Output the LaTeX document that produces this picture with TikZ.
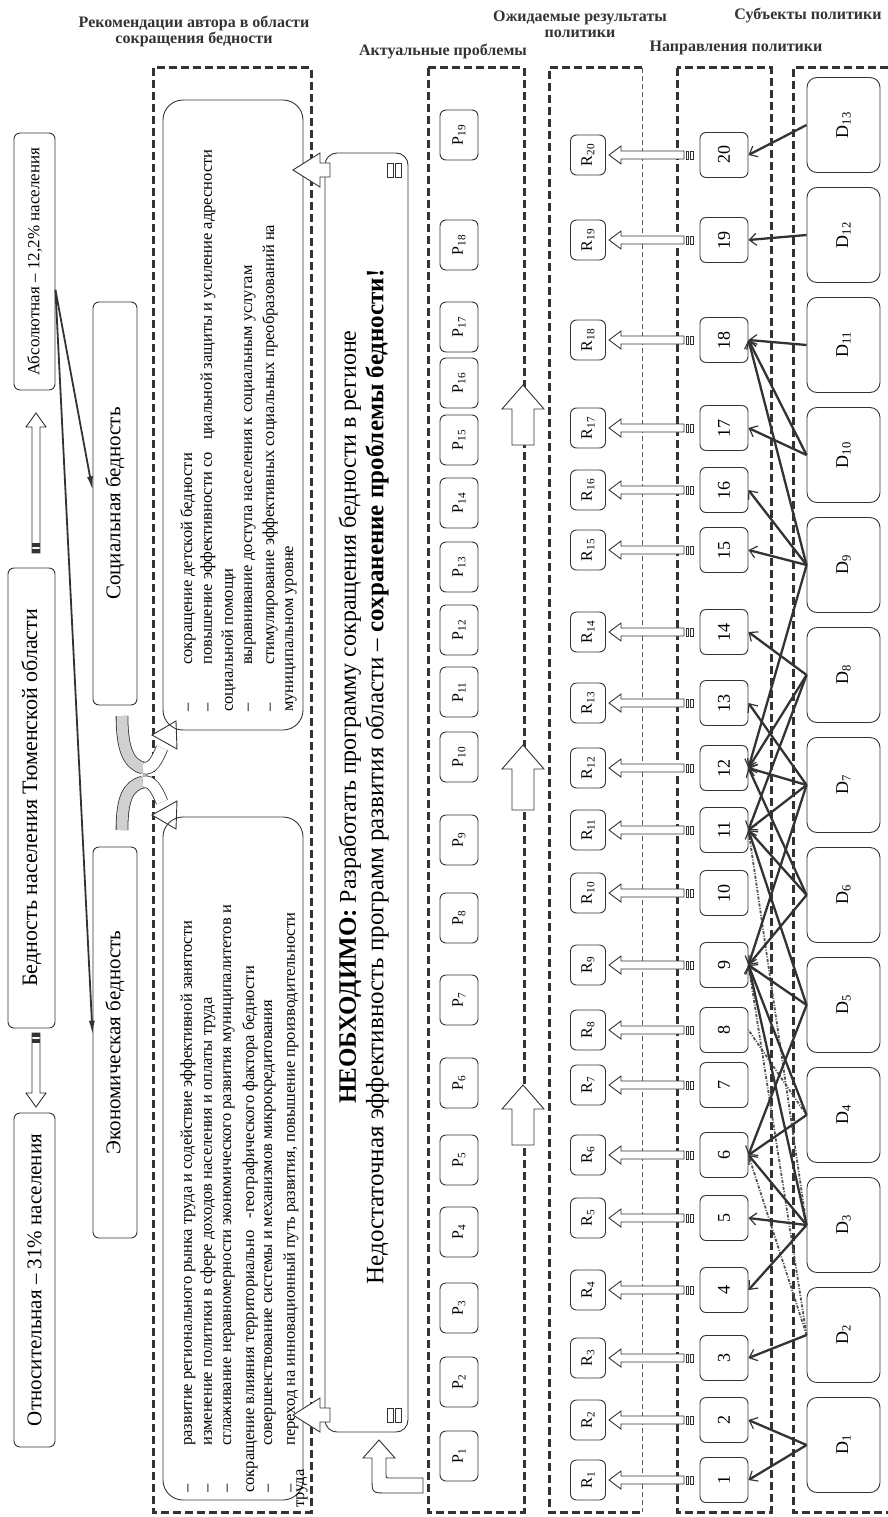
\documentclass[tikz,border=0pt]{standalone}
\usepackage{fontspec}
\setmainfont{Liberation Serif}
\usetikzlibrary{arrows.meta,calc}
\definecolor{ink}{HTML}{333333}
\definecolor{grayfill}{HTML}{D0D0D0}
\newcommand\fs[1]{\fontsize{#1}{#1}\selectfont}
\newcommand\harrL[6]{\draw[blk] (#1,#3-#4) -- (#2+#6,#3-#4) -- (#2+#6,#3-#5) -- (#2,#3) -- (#2+#6,#3+#5) -- (#2+#6,#3+#4) -- (#1,#3+#4) -- cycle;}
\newcommand\varrU[6]{\draw[blk] (#1-#4,#2) -- (#1-#4,#3+#6) -- (#1-#5,#3+#6) -- (#1,#3) -- (#1+#5,#3+#6) -- (#1+#4,#3+#6) -- (#1+#4,#2) -- cycle;}
\newcommand\varrD[6]{\draw[blk] (#1-#4,#2) -- (#1-#4,#3-#6) -- (#1-#5,#3-#6) -- (#1,#3) -- (#1+#5,#3-#6) -- (#1+#4,#3-#6) -- (#1+#4,#2) -- cycle;}
\newcommand\dsh{\makebox[47pt][l]{–}}
\begin{document}
\begin{tikzpicture}[x=1pt,y=-1pt,
 bx/.style={draw=ink, line width=0.9pt, rounded corners=6pt, rotate=90, inner sep=0pt, align=center, text=black},
 hd/.style={font=\bfseries\fs{16}, align=center, text=ink},
 fh/.style={draw=ink, line width=3pt, dash pattern=on 8pt off 4pt},
 fl/.style={draw=ink!80, line width=0.7pt, dash pattern=on 5pt off 3pt},
 cn/.style={draw=ink, line width=2.3pt, -{Straight Barb[length=7pt,width=12pt,line width=1.2pt]}},
 cd/.style={draw=ink!85, line width=1.8pt, dash pattern=on 3pt off 1.5pt on 1pt off 1.5pt},
 blk/.style={draw=ink, line width=0.9pt, fill=white, line join=miter},
 rl/.style={rotate=90, anchor=west, inner sep=0pt, font=\fs{16.5}, text=black},
]
\useasboundingbox[fill=white] (0,0) rectangle (888,1517);

% headings
\node[hd] (h1) at (194,31) {Рекомендации автора в области\\сокращения бедности};
\node[hd] (h2) at (443,52) {Актуальные проблемы};
\node[hd] (h3) at (580,24) {Ожидаемые результаты\\политики};
\node[hd] (h4) at (808,16) {Субъекты политики};
\node[hd] (h5) at (736,48) {Направления политики};

% frames
\draw[fh] (153,68) rectangle (311,1512);
\draw[fh] (428,68) rectangle (524,1512);
\draw[fh] (642,68) -- (549,68) -- (549,1512) -- (642,1512);
\draw[fl] (642,68) -- (642,1512);
\draw[fh] (677,68) rectangle (771,1512);
\draw[fh] (888,68) -- (793,68) -- (793,1512) -- (888,1512);

% left column
\node[bx, minimum width=257, minimum height=41, font=\fs{17}] (abs) at (34.5,261.5) {Абсолютная – 12,2\% населения};
\node[bx, minimum width=460, minimum height=47, font=\fs{22}] (bed) at (31.5,798) {Бедность населения Тюменской области};
\node[bx, minimum width=334, minimum height=41, font=\fs{21}] (otn) at (34.5,1280) {Относительная – 31\% населения};
\node[bx, minimum width=403, minimum height=44, font=\fs{21}] (soc) at (115,503.5) {Социальная бедность};
\node[bx, minimum width=391, minimum height=44, font=\fs{21}] (eco) at (115,1042.5) {Экономическая бедность};

\varrU{36}{553}{413}{4}{10}{14}
\fill[ink] (32,543) rectangle (40,547);
\fill[ink] (32,549) rectangle (40,553);
\varrD{36}{1033}{1107}{4}{10}{14}
\fill[ink] (32,1033) rectangle (40,1037);
\fill[ink] (32,1039) rectangle (40,1043);

\coordinate (absout) at ($(abs.south)!0.22!(abs.south west)$);
\draw[draw=ink, line width=1.8pt, -{Latex[length=14pt,width=6pt]}] (absout) -- ($(soc.north)!0.065!(soc.north east)$);
\draw[draw=ink, line width=1.8pt, -{Latex[length=14pt,width=6pt]}] (absout) -- ($(eco.north)!0.04!(eco.north east)$);

% gray curved arrows
\draw[draw=ink, double=grayfill, double distance=11pt, line width=0.8pt] (122,716) .. controls (122,748) and (128,764) .. (143,768);
\draw[draw=ink, double=white, double distance=11pt, line width=0.8pt] (143,768) .. controls (152,770) and (157,760) .. (162,748);
\draw[blk] (176,721) -- (177,749) -- (152,735) -- cycle;
\draw[draw=ink, double=grayfill, double distance=11pt, line width=0.8pt] (122,830) .. controls (122,798) and (128,786) .. (143,782);
\draw[draw=ink, double=white, double distance=11pt, line width=0.8pt] (143,782) .. controls (152,780) and (157,790) .. (162,802);
\draw[blk] (176,829) -- (177,801) -- (152,815) -- cycle;

% recommendation boxes
\node[bx, rounded corners=20pt, minimum width=630, minimum height=140] (recS) at (233,415) {};
\node[bx, rounded corners=20pt, minimum width=683, minimum height=140] (recE) at (233,1158.5) {};
\node[rl] (s1) at (188,712) {\dsh сокращение детской бедности};
\node[rl] (s2) at (208,712) {\dsh повышение эффективности со\hspace{12pt}циальной защиты и усиление адресности};
\node[rl] (s3) at (229,712) {социальной помощи};
\node[rl] (s4) at (250,712) {\dsh выравнивание доступа населения к социальным услугам};
\node[rl] (s5) at (270,712) {\dsh стимулирование эффективных социальных преобразований на};
\node[rl] (s6) at (291,712) {муниципальном уровне};
\node[rl] (e1) at (188,1493) {\dsh развитие регионального рынка труда и содействие эффективной занятости};
\node[rl] (e2) at (208,1493) {\dsh изменение политики в сфере доходов населения и оплаты труда};
\node[rl] (e3) at (229,1493) {\dsh сглаживание неравномерности экономического развития муниципалитетов и};
\node[rl] (e4) at (250,1493) {сокращение влияния территориально\hspace{12pt}-географического фактора бедности};
\node[rl] (e5) at (270,1493) {\dsh совершенствование системы и механизмов микрокредитования};
\node[rl] (e6) at (291,1493) {\dsh переход на инновационный путь развития, повышение производительности};
\node[rl] (e7) at (302,1508) {труда};

% scroll
\node[bx, rounded corners=12pt, minimum width=1279, minimum height=83] (scroll) at (366.5,792.5) {};
\draw[draw=ink, line width=0.8pt] (387,163) rectangle (393,177) (395,163) rectangle (401,177);
\draw[draw=ink, line width=0.8pt] (387,1408) rectangle (393,1422) (395,1408) rectangle (401,1422);
\harrL{330}{293}{170}{7}{17}{27}
\harrL{330}{293}{1415}{7}{17}{27}
\node[rotate=90, font=\fs{24}] (need) at (350,717) {\textbf{\fs{25}НЕОБХОДИМО:} Разработать программу сокращения бедности в регионе};
\node[rotate=90, font=\fs{25}] (lack) at (377,777) {Недостаточная эффективность программ развития области – \textbf{сохранение проблемы бедности!}};
\draw[blk] (372,1458) -- (372,1478) .. controls (372,1493) and (372,1493) .. (387,1493) -- (423,1493) -- (423,1478) -- (390,1478) .. controls (386,1478) and (386,1478) .. (386,1474) -- (386,1458) -- (395,1458) -- (379,1440) -- (363,1458) -- cycle;

% big up arrows
\varrU{523}{445}{385}{11}{21}{24}
\varrU{523}{810}{745}{11}{21}{24}
\varrU{523}{1145}{1085}{11}{21}{24}

% P column
\foreach \i/\y in {1/1456,2/1382,3/1308,4/1232,5/1160,6/1083,7/1000,8/918,9/840,10/757,11/692,12/630,13/567,14/503,15/440,16/383,17/327,18/245,19/135}{
 \node[bx, minimum width=50, minimum height=38, font=\fs{16}] (P\i) at (459,\y) {P\textsubscript{\i}};
}
% numbers, R, arrows
\foreach \i/\y in {1/1480,2/1420,3/1358,4/1290,5/1218,6/1155,7/1085,8/1030,9/965,10/893,11/830,12/768,13/703,14/632,15/550,16/490,17/428,18/340,19/240,20/155}{
 \node[bx, minimum width=45, minimum height=48, font=\fs{18}] (n\i) at (724,\y) {\i};
 \node[bx, minimum width=40, minimum height=35, font=\fs{16}] (R\i) at (588,\y) {R\textsubscript{\i}};
 \harrL{684}{609}{\y}{4}{9}{12}
 \draw[blk, line width=0.7pt] (686,\y-4) rectangle (688,\y+4) (690,\y-4) rectangle (693,\y+4);
}
% D column
\foreach \i in {1,...,13}{
 \pgfmathsetmacro\yy{125+(13-\i)*110}
 \node[bx, rounded corners=10pt, minimum width=95, minimum height=73, font=\fs{18}] (D\i) at (843.5,\yy) {D\textsubscript{\i}};
}
% connectors
\draw[cd] (D2.north) -- (n6.south);
\draw[cd] (D2.north) -- (n9.south);
\draw[cd] (D3.north) -- (n11.south);
\draw[cd] (D4.north) -- (n8.south);
\foreach \a/\b in {13/20,12/19,11/18,10/18,10/17,9/18,9/16,9/15,9/12,8/14,8/12,8/11,7/13,7/12,7/11,7/9,6/12,6/11,6/9,5/9,5/11,5/6,4/9,4/6,3/5,3/6,3/9,3/4,2/3,1/2,1/1}{
 \draw[cn] (D\a.north) -- (n\b.south);
}
\end{tikzpicture}
\end{document}
